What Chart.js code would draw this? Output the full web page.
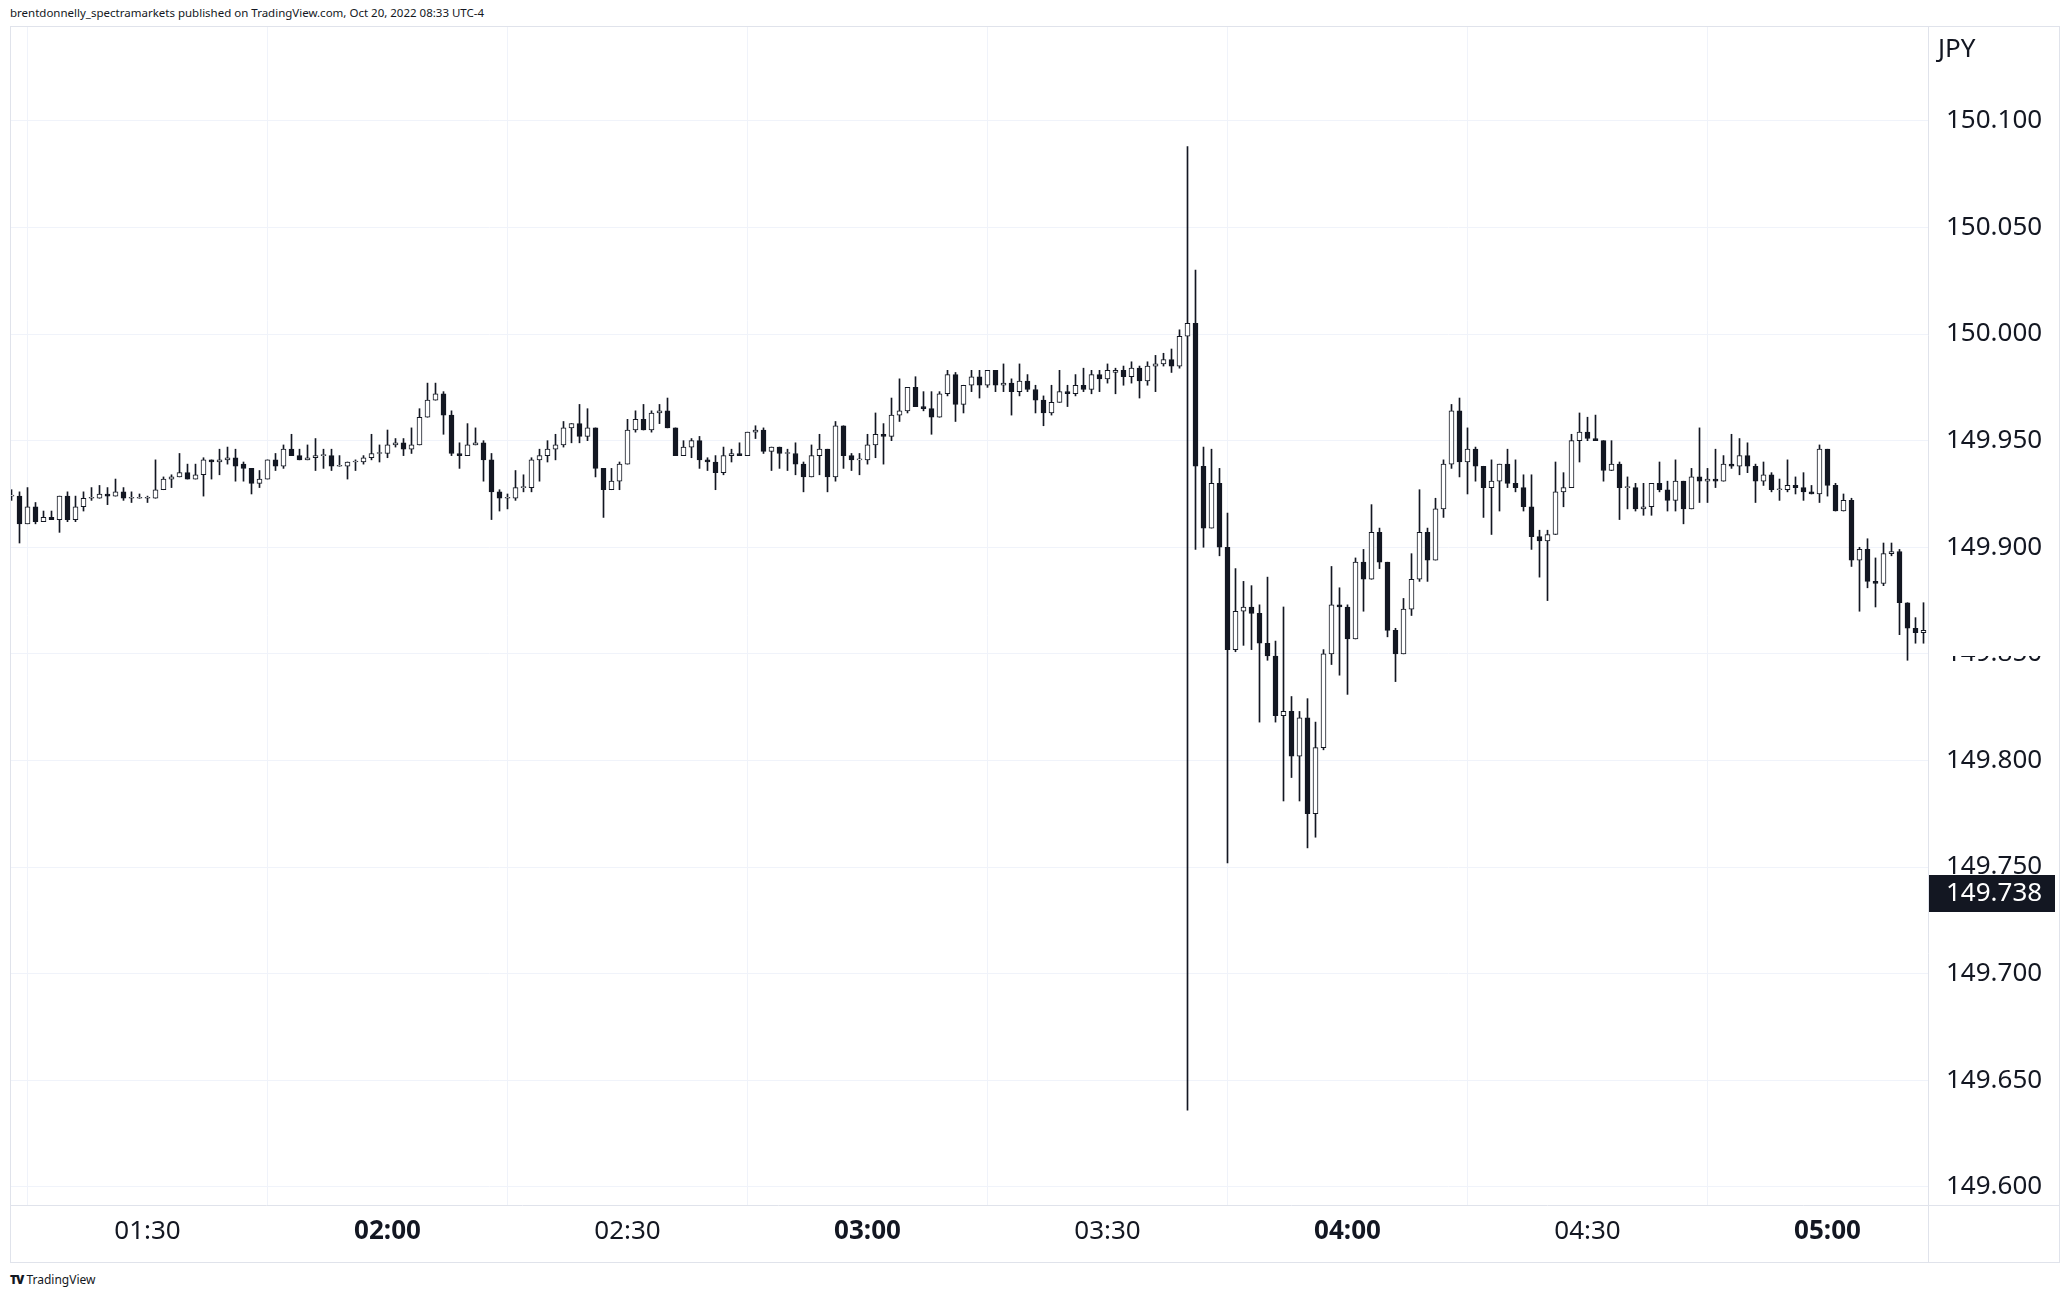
<!DOCTYPE html>
<html>
<head>
<meta charset="utf-8">
<title>USDJPY 1m</title>
<script src="https://cdn.jsdelivr.net/npm/chart.js@4.4.0/dist/chart.umd.min.js"></script>
<style>
    html, body { margin: 0; padding: 0; background: #ffffff; }
    body { width: 2070px; height: 1299px; position: relative; overflow: hidden; font-family: "Noto Sans", sans-serif; color: #131722; }
    #header { position: absolute; left: 10px; top: 4px; font-size: 11.5px; line-height: 18px; white-space: nowrap; }
    #frame { position: absolute; left: 10px; top: 26px; }
    #logo { position: absolute; left: 10px; top: 1271px; font-size: 12px; line-height: 18px; white-space: nowrap; }
    #logo b { font-weight: 900; letter-spacing: -1px; margin-right: 3px; }
</style>
</head>
<body>
<div id="header">brentdonnelly_spectramarkets published on TradingView.com, Oct 20, 2022 08:33 UTC-4</div>
<canvas id="frame" width="2050" height="1237"></canvas>
<div id="logo"><b>TV</b>TradingView</div>
<script>
// 1-minute candles, first one at 01:13
const firstCandle = '01:13';

const opens = [
    149.924, 149.924, 149.911, 149.919, 149.912, 149.914, 149.913, 149.924, 149.913, 149.919,
    149.923, 149.923, 149.925, 149.924, 149.926, 149.923, 149.923, 149.923, 149.923, 149.927,
    149.932, 149.933, 149.935, 149.932, 149.934, 149.941, 149.940, 149.941, 149.942, 149.939,
    149.937, 149.930, 149.932, 149.941, 149.938, 149.946, 149.943, 149.941, 149.942, 149.943,
    149.943, 149.938, 149.938, 149.940, 149.940, 149.942, 149.944, 149.944, 149.948, 149.949,
    149.946, 149.948, 149.961, 149.969, 149.972, 149.962, 149.944, 149.943, 149.948, 149.949,
    149.941, 149.926, 149.923, 149.923, 149.928, 149.928, 149.941, 149.943, 149.946, 149.948,
    149.956, 149.958, 149.952, 149.956, 149.937, 149.927, 149.931, 149.939, 149.955, 149.960,
    149.955, 149.963, 149.964, 149.956, 149.943, 149.947, 149.950, 149.941, 149.940, 149.935,
    149.943, 149.944, 149.943, 149.954, 149.955, 149.945, 149.947, 149.944, 149.944, 149.939,
    149.933, 149.943, 149.946, 149.933, 149.957, 149.943, 149.941, 149.941, 149.948, 149.953,
    149.952, 149.962, 149.964, 149.975, 149.966, 149.965, 149.961, 149.972, 149.981, 149.967,
    149.976, 149.980, 149.976, 149.983, 149.976, 149.977, 149.973, 149.978, 149.974, 149.969,
    149.963, 149.968, 149.973, 149.972, 149.976, 149.974, 149.981, 149.979, 149.982, 149.983,
    149.980, 149.984, 149.978, 149.985, 149.986, 149.988, 149.985, 149.999, 150.005, 149.938,
    149.909, 149.930, 149.900, 149.852, 149.870, 149.872, 149.869, 149.855, 149.849, 149.821,
    149.823, 149.802, 149.820, 149.775, 149.806, 149.850, 149.873, 149.872, 149.857, 149.893,
    149.885, 149.907, 149.893, 149.861, 149.850, 149.871, 149.885, 149.907, 149.894, 149.918,
    149.939, 149.964, 149.940, 149.946, 149.938, 149.928, 149.931, 149.939, 149.930, 149.928,
    149.919, 149.905, 149.903, 149.906, 149.926, 149.928, 149.950, 149.954, 149.951, 149.950,
    149.936, 149.939, 149.928, 149.928, 149.918, 149.919, 149.930, 149.927, 149.922, 149.931,
    149.918, 149.933, 149.931, 149.932, 149.931, 149.939, 149.938, 149.943, 149.938, 149.931,
    149.934, 149.927, 149.927, 149.929, 149.928, 149.926, 149.925, 149.946, 149.929, 149.917,
    149.922, 149.894, 149.899, 149.884, 149.883, 149.897, 149.898, 149.874, 149.862, 149.860
];

const highs = [
    149.927, 149.926, 149.928, 149.921, 149.917, 149.917, 149.924, 149.926, 149.924, 149.926,
    149.928, 149.929, 149.928, 149.932, 149.928, 149.926, 149.925, 149.924, 149.941, 149.933,
    149.934, 149.944, 149.939, 149.939, 149.942, 149.941, 149.946, 149.947, 149.946, 149.940,
    149.937, 149.936, 149.941, 149.944, 149.948, 149.953, 149.946, 149.948, 149.951, 149.946,
    149.946, 149.943, 149.940, 149.941, 149.943, 149.953, 149.948, 149.955, 149.951, 149.951,
    149.956, 149.965, 149.977, 149.977, 149.973, 149.964, 149.949, 149.958, 149.956, 149.950,
    149.944, 149.927, 149.925, 149.936, 149.934, 149.942, 149.946, 149.950, 149.953, 149.959,
    149.958, 149.967, 149.965, 149.956, 149.937, 149.937, 149.940, 149.960, 149.964, 149.967,
    149.964, 149.967, 149.970, 149.956, 149.950, 149.951, 149.952, 149.942, 149.943, 149.947,
    149.946, 149.949, 149.954, 149.957, 149.956, 149.947, 149.947, 149.946, 149.949, 149.940,
    149.948, 149.953, 149.946, 149.959, 149.957, 149.944, 149.944, 149.953, 149.963, 149.958,
    149.970, 149.979, 149.975, 149.980, 149.973, 149.973, 149.973, 149.983, 149.982, 149.976,
    149.983, 149.983, 149.983, 149.983, 149.986, 149.979, 149.986, 149.981, 149.976, 149.971,
    149.976, 149.983, 149.976, 149.981, 149.984, 149.983, 149.983, 149.986, 149.984, 149.985,
    149.987, 149.985, 149.987, 149.990, 149.991, 149.993, 150.002, 150.088, 150.030, 149.947,
    149.946, 149.937, 149.916, 149.890, 149.884, 149.882, 149.873, 149.886, 149.856, 149.872,
    149.830, 149.823, 149.829, 149.818, 149.852, 149.891, 149.881, 149.873, 149.895, 149.899,
    149.920, 149.909, 149.893, 149.862, 149.876, 149.897, 149.927, 149.909, 149.923, 149.941,
    149.967, 149.970, 149.956, 149.947, 149.938, 149.941, 149.939, 149.946, 149.941, 149.934,
    149.934, 149.908, 149.908, 149.940, 149.935, 149.953, 149.963, 149.961, 149.962, 149.950,
    149.950, 149.940, 149.933, 149.930, 149.930, 149.930, 149.940, 149.931, 149.941, 149.931,
    149.937, 149.956, 149.937, 149.946, 149.943, 149.953, 149.951, 149.949, 149.939, 149.940,
    149.935, 149.932, 149.941, 149.933, 149.935, 149.929, 149.948, 149.946, 149.930, 149.925,
    149.923, 149.900, 149.904, 149.895, 149.902, 149.902, 149.899, 149.874, 149.867, 149.874
];

const lows = [
    149.922, 149.902, 149.911, 149.911, 149.912, 149.913, 149.907, 149.912, 149.912, 149.917,
    149.922, 149.923, 149.920, 149.924, 149.922, 149.921, 149.923, 149.921, 149.923, 149.927,
    149.928, 149.933, 149.932, 149.932, 149.924, 149.932, 149.934, 149.939, 149.931, 149.931,
    149.925, 149.928, 149.932, 149.936, 149.937, 149.943, 149.941, 149.941, 149.936, 149.937,
    149.936, 149.938, 149.932, 149.936, 149.939, 149.941, 149.940, 149.942, 149.947, 149.943,
    149.944, 149.948, 149.961, 149.969, 149.953, 149.943, 149.937, 149.943, 149.948, 149.931,
    149.913, 149.917, 149.918, 149.922, 149.926, 149.926, 149.931, 149.940, 149.941, 149.947,
    149.949, 149.949, 149.950, 149.933, 149.914, 149.927, 149.927, 149.939, 149.954, 149.955,
    149.954, 149.958, 149.956, 149.943, 149.943, 149.942, 149.937, 149.936, 149.927, 149.934,
    149.940, 149.943, 149.943, 149.951, 149.944, 149.936, 149.937, 149.936, 149.934, 149.926,
    149.933, 149.934, 149.926, 149.931, 149.937, 149.936, 149.934, 149.939, 149.942, 149.939,
    149.950, 149.959, 149.963, 149.966, 149.964, 149.953, 149.961, 149.971, 149.959, 149.963,
    149.973, 149.970, 149.975, 149.973, 149.973, 149.962, 149.971, 149.973, 149.963, 149.957,
    149.962, 149.968, 149.966, 149.971, 149.973, 149.972, 149.973, 149.977, 149.972, 149.976,
    149.977, 149.970, 149.976, 149.973, 149.985, 149.982, 149.984, 149.636, 149.899, 149.900,
    149.909, 149.896, 149.752, 149.851, 149.854, 149.852, 149.818, 149.847, 149.818, 149.781,
    149.792, 149.781, 149.759, 149.764, 149.805, 149.845, 149.840, 149.831, 149.857, 149.870,
    149.885, 149.890, 149.858, 149.837, 149.850, 149.868, 149.884, 149.884, 149.894, 149.914,
    149.937, 149.933, 149.925, 149.931, 149.914, 149.906, 149.917, 149.928, 149.926, 149.917,
    149.899, 149.886, 149.875, 149.906, 149.919, 149.928, 149.940, 149.950, 149.950, 149.931,
    149.936, 149.913, 149.918, 149.917, 149.915, 149.915, 149.926, 149.917, 149.917, 149.911,
    149.918, 149.921, 149.921, 149.928, 149.931, 149.937, 149.934, 149.935, 149.921, 149.929,
    149.926, 149.922, 149.926, 149.925, 149.922, 149.925, 149.921, 149.924, 149.917, 149.917,
    149.891, 149.870, 149.881, 149.872, 149.882, 149.896, 149.859, 149.847, 149.855, 149.855
];

const closes = [
    149.924, 149.911, 149.919, 149.912, 149.914, 149.913, 149.924, 149.913, 149.919, 149.923,
    149.923, 149.925, 149.924, 149.926, 149.923, 149.923, 149.923, 149.923, 149.927, 149.932,
    149.933, 149.935, 149.932, 149.934, 149.941, 149.940, 149.941, 149.942, 149.938, 149.937,
    149.930, 149.932, 149.941, 149.938, 149.946, 149.943, 149.941, 149.942, 149.943, 149.943,
    149.938, 149.938, 149.940, 149.940, 149.942, 149.944, 149.944, 149.948, 149.949, 149.946,
    149.948, 149.961, 149.969, 149.972, 149.962, 149.944, 149.943, 149.948, 149.949, 149.941,
    149.926, 149.923, 149.923, 149.928, 149.928, 149.941, 149.943, 149.946, 149.948, 149.956,
    149.958, 149.952, 149.956, 149.937, 149.927, 149.931, 149.939, 149.955, 149.960, 149.955,
    149.963, 149.964, 149.956, 149.943, 149.947, 149.950, 149.941, 149.940, 149.935, 149.943,
    149.944, 149.943, 149.954, 149.955, 149.945, 149.947, 149.944, 149.944, 149.939, 149.933,
    149.943, 149.946, 149.933, 149.957, 149.943, 149.941, 149.941, 149.948, 149.953, 149.952,
    149.962, 149.964, 149.975, 149.966, 149.965, 149.961, 149.972, 149.981, 149.967, 149.976,
    149.980, 149.976, 149.983, 149.976, 149.977, 149.973, 149.978, 149.974, 149.969, 149.963,
    149.968, 149.973, 149.972, 149.976, 149.974, 149.981, 149.979, 149.983, 149.983, 149.980,
    149.984, 149.978, 149.985, 149.986, 149.988, 149.985, 149.999, 150.005, 149.938, 149.909,
    149.930, 149.900, 149.852, 149.870, 149.872, 149.869, 149.855, 149.849, 149.821, 149.823,
    149.802, 149.820, 149.775, 149.806, 149.850, 149.873, 149.872, 149.857, 149.893, 149.885,
    149.907, 149.893, 149.861, 149.850, 149.871, 149.885, 149.907, 149.894, 149.918, 149.939,
    149.964, 149.940, 149.946, 149.938, 149.928, 149.931, 149.939, 149.930, 149.928, 149.919,
    149.905, 149.903, 149.906, 149.926, 149.928, 149.950, 149.954, 149.951, 149.950, 149.936,
    149.939, 149.928, 149.928, 149.918, 149.919, 149.930, 149.927, 149.922, 149.931, 149.918,
    149.933, 149.931, 149.932, 149.931, 149.939, 149.938, 149.943, 149.938, 149.931, 149.934,
    149.927, 149.927, 149.929, 149.928, 149.926, 149.925, 149.946, 149.929, 149.917, 149.922,
    149.894, 149.899, 149.884, 149.883, 149.897, 149.898, 149.874, 149.862, 149.860, 149.861
];

// Axis labels
const timeTicks = ['01:30', '02:00', '02:30', '03:00', '03:30', '04:00', '04:30', '05:00'];
const priceTicks = [149.600, 149.650, 149.700, 149.750, 149.800, 149.850, 149.900, 149.950, 150.000, 150.050, 150.100];
const currencyLabel = 'JPY';
const markerPrice = 149.738;
// blank (white) last-bar label that hides the top of the 149.850 tick
const blankLabelPrice = 149.858;

const INK = '#131722';
const LINE = '#e0e3eb';
const GRID = '#f0f3fa';

// "HH:MM" -> minutes after midnight
function toMinutes(label) {
    const parts = label.split(':');
    return Number(parts[0]) * 60 + Number(parts[1]);
}

const startMinute = toMinutes(firstCandle);
const times = opens.map((_, i) => startMinute + i);

const wicks = times.map((t, i) => ({ x: t, y: [lows[i], highs[i]] }));
const bodies = times.map((t, i) => ({ x: t, y: [opens[i], closes[i]] }));
const bodyFill = times.map((_, i) => (closes[i] >= opens[i] ? '#ffffff' : INK));

// Frame, pane separators, currency caption and the price labels
const decorations = {
    id: 'decorations',
    afterDraw(chart) {
        const { ctx, chartArea, width, height } = chart;
        const yScale = chart.scales.y;
        ctx.save();

        // white label on the axis
        const yb = yScale.getPixelForValue(blankLabelPrice);
        ctx.fillStyle = '#ffffff';
        ctx.fillRect(chartArea.right + 1, Math.round(yb - 18), 126, 37);

        ctx.strokeStyle = LINE;
        ctx.lineWidth = 1;
        ctx.strokeRect(0.5, 0.5, width - 1, height - 1);
        ctx.beginPath();
        ctx.moveTo(Math.round(chartArea.right) + 0.5, 0);
        ctx.lineTo(Math.round(chartArea.right) + 0.5, height);
        ctx.moveTo(0, Math.round(chartArea.bottom) + 0.5);
        ctx.lineTo(width, Math.round(chartArea.bottom) + 0.5);
        ctx.stroke();

        ctx.fillStyle = INK;
        ctx.font = '26px "Noto Sans"';
        ctx.textAlign = 'left';
        ctx.textBaseline = 'middle';
        ctx.fillText(currencyLabel, chartArea.right + 10, 24);

        const y = yScale.getPixelForValue(markerPrice);
        ctx.fillStyle = INK;
        ctx.fillRect(chartArea.right + 1, Math.round(y - 18), 126, 37);
        ctx.fillStyle = '#ffffff';
        ctx.fillText(markerPrice.toFixed(3), chartArea.right + 18, y + 1);
        ctx.restore();
    }
};

const ctx = document.getElementById('frame').getContext('2d');
const chart = new Chart(ctx, {
    type: 'bar',
    data: {
        datasets: [
            {
                label: 'body',
                data: bodies,
                backgroundColor: bodyFill,
                borderColor: INK,
                borderWidth: 1,
                borderSkipped: false,
                barThickness: 5,
                minBarLength: 1
            },
            {
                label: 'wick',
                data: wicks,
                backgroundColor: INK,
                borderWidth: 0,
                barThickness: 1
            }
        ]
    },
    options: {
        responsive: false,
        animation: false,
        devicePixelRatio: 1,
        layout: { padding: 0 },
        datasets: { bar: { grouped: false } },
        plugins: {
            legend: { display: false },
            tooltip: { enabled: false }
        },
        scales: {
            x: {
                type: 'linear',
                min: 72.8125,
                max: 312.5625,
                offset: false,
                afterBuildTicks: scale => {
                    scale.ticks = timeTicks.map(t => ({ value: toMinutes(t) }));
                },
                afterFit: scale => {
                    scale.height = 58;
                    scale.paddingLeft = 0;
                    scale.paddingRight = 0;
                },
                grid: { color: GRID, drawTicks: false },
                border: { display: false },
                ticks: {
                    autoSkip: false,
                    maxRotation: 0,
                    padding: 11,
                    color: INK,
                    font: c => ({
                        family: 'Noto Sans',
                        size: 26,
                        weight: c.tick && c.tick.value % 60 === 0 ? 'bold' : 'normal'
                    }),
                    callback: (value, index) => timeTicks[index]
                }
            },
            y: {
                position: 'right',
                min: 149.5915,
                max: 150.1445,
                afterBuildTicks: scale => {
                    scale.ticks = priceTicks.map(v => ({ value: v }));
                },
                afterFit: scale => {
                    scale.width = 132;
                    scale.paddingTop = 0;
                    scale.paddingBottom = 0;
                },
                grid: { color: GRID, drawTicks: false },
                border: { display: false },
                ticks: {
                    padding: 18,
                    color: INK,
                    font: { family: 'Noto Sans', size: 26 },
                    callback: value => Number(value).toFixed(3)
                }
            }
        }
    },
    plugins: [decorations]
});
</script>
</body>
</html>
